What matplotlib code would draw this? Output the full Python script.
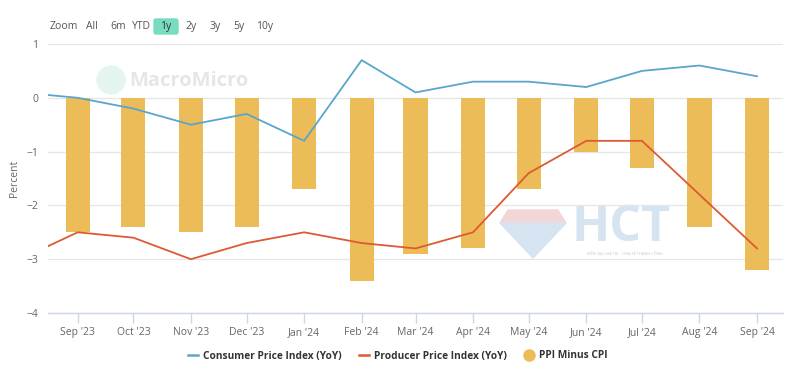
import matplotlib
matplotlib.use("Agg")
import matplotlib.pyplot as plt
import matplotlib.dates as mdates
from matplotlib.lines import Line2D
from matplotlib.patches import Polygon, Circle, FancyBboxPatch
import datetime as dt

# ---- data ----
months = ["2023-08", "2023-09", "2023-10", "2023-11", "2023-12", "2024-01", "2024-02",
          "2024-03", "2024-04", "2024-05", "2024-06", "2024-07", "2024-08", "2024-09"]
cpi = [0.1, 0.0, -0.2, -0.5, -0.3, -0.8, 0.7, 0.1, 0.3, 0.3, 0.2, 0.5, 0.6, 0.4]
ppi = [-3.0, -2.5, -2.6, -3.0, -2.7, -2.5, -2.7, -2.8, -2.5, -1.4, -0.8, -0.8, -1.8, -2.8]
ppi_minus_cpi = [-3.1, -2.5, -2.4, -2.5, -2.4, -1.7, -3.4, -2.9, -2.8, -1.7, -1.0, -1.3, -2.4, -3.2]
y_ticks = [1, 0, -1, -2, -3, -4]
zoom_buttons = ["Zoom", "All", "6m", "YTD", "1y", "2y", "3y", "5y", "10y"]

dates = [dt.datetime.strptime(m + "-01", "%Y-%m-%d") for m in months]
xd = mdates.date2num(dates)

FONT = ["Open Sans", "DejaVu Sans"]
plt.rcParams["font.family"] = FONT

W, H = 800, 377
fig = plt.figure(figsize=(8, 3.77), dpi=100)
fig.patch.set_facecolor("white")

def fx(px):
    return px / W

def fy(py):
    return 1 - py / H

ax = fig.add_axes([fx(48), fy(313), fx(783) - fx(48), fy(44) - fy(313)])
ax.set_facecolor("none")

# watermark (behind data) -- drawn on figure-level axes underneath
bg = fig.add_axes([0, 0, 1, 1], zorder=-1)
bg.set_xlim(0, W)
bg.set_ylim(H, 0)
bg.axis("off")
bg.add_patch(Circle((111, 80), 14, color="#e4f4ef"))
bg.text(129, 81, "MacroMicro", fontsize=14.5, color="#e6e6e6", va="center", ha="left", fontweight="bold")
# HCT logo
bg.add_patch(Polygon([(500, 223), (508, 210), (558, 210), (566, 223)], closed=True, color="#f3d6d6"))
bg.add_patch(Polygon([(500, 223), (566, 223), (533, 258)], closed=True, color="#d6e3f0"))
bg.text(571, 228, "HCT", fontsize=36, color="#d6e3f0", va="center", ha="left", fontweight="bold")
bg.text(625, 254, "KIẾN TẠO GIÁ TRỊ - CHIA SẺ THÀNH CÔNG", fontsize=2.8, color="#c8c8c8", va="center", ha="center")

# zoom buttons
btn_x = [50, 86, 110, 132, 158, 185, 209, 233, 256]
for label, x in zip(zoom_buttons, btn_x):
    if label == "1y":
        bg.add_patch(FancyBboxPatch((154, 19), 24, 15, boxstyle="round,pad=0,rounding_size=2",
                                    color="#77dcc0"))
        bg.text(166, 26.5, label, fontsize=7.5, color="#333333", va="center", ha="center")
    else:
        bg.text(x, 26.5, label, fontsize=7.5, color="#555555", va="center", ha="left")

# bars
bar_color = "#ecbc58"
ax.bar(xd, ppi_minus_cpi, width=13, color=bar_color, zorder=2)
# lines
ax.plot(xd, cpi, color="#5aa5cc", lw=1.3, zorder=3)
ax.plot(xd, ppi, color="#dd5a33", lw=1.3, zorder=3)

ax.set_ylim(-4, 1)
ax.set_xlim(mdates.date2num(dt.datetime(2023, 8, 16)), mdates.date2num(dt.datetime(2024, 9, 15)))
ax.set_yticks(y_ticks)
ax.yaxis.grid(True, color="#e6e6e6", lw=0.9, zorder=0)
ax.set_axisbelow(True)

ax.xaxis.set_major_locator(mdates.MonthLocator())
ax.xaxis.set_major_formatter(mdates.DateFormatter("%b '%y"))

for s in ["top", "right", "left"]:
    ax.spines[s].set_visible(False)
ax.spines["bottom"].set_color("#ccd6eb")
ax.spines["bottom"].set_linewidth(1)
ax.tick_params(axis="x", colors="#ccd6eb", length=7, width=1, labelcolor="#666666",
               labelsize=7.5, pad=3)
ax.tick_params(axis="y", length=0, labelcolor="#666666", labelsize=7.5, pad=7)
for lab in ax.get_yticklabels():
    lab.set_horizontalalignment("right")
ax.set_ylabel("Percent", fontsize=7.5, color="#666666")
ax.yaxis.set_label_coords((20 - 48) / 735, 0.5)

# legend
handles = [
    Line2D([], [], color="#5aa5cc", lw=1.8),
    Line2D([], [], color="#dd5a33", lw=1.8),
    Line2D([], [], color=bar_color, marker="o", lw=0, markersize=8),
]
labels = ["Consumer Price Index (YoY)", "Producer Price Index (YoY)", "PPI Minus CPI"]
leg = fig.legend(handles, labels, loc="center", bbox_to_anchor=(fx(398), fy(356)), ncol=3,
                 frameon=False, handlelength=0.9, handletextpad=0.5, columnspacing=1.8,
                 prop={"family": FONT, "weight": "bold", "size": 7.3})
for t in leg.get_texts():
    t.set_color("#333333")

fig.savefig("out.png", dpi=100, facecolor="white")
